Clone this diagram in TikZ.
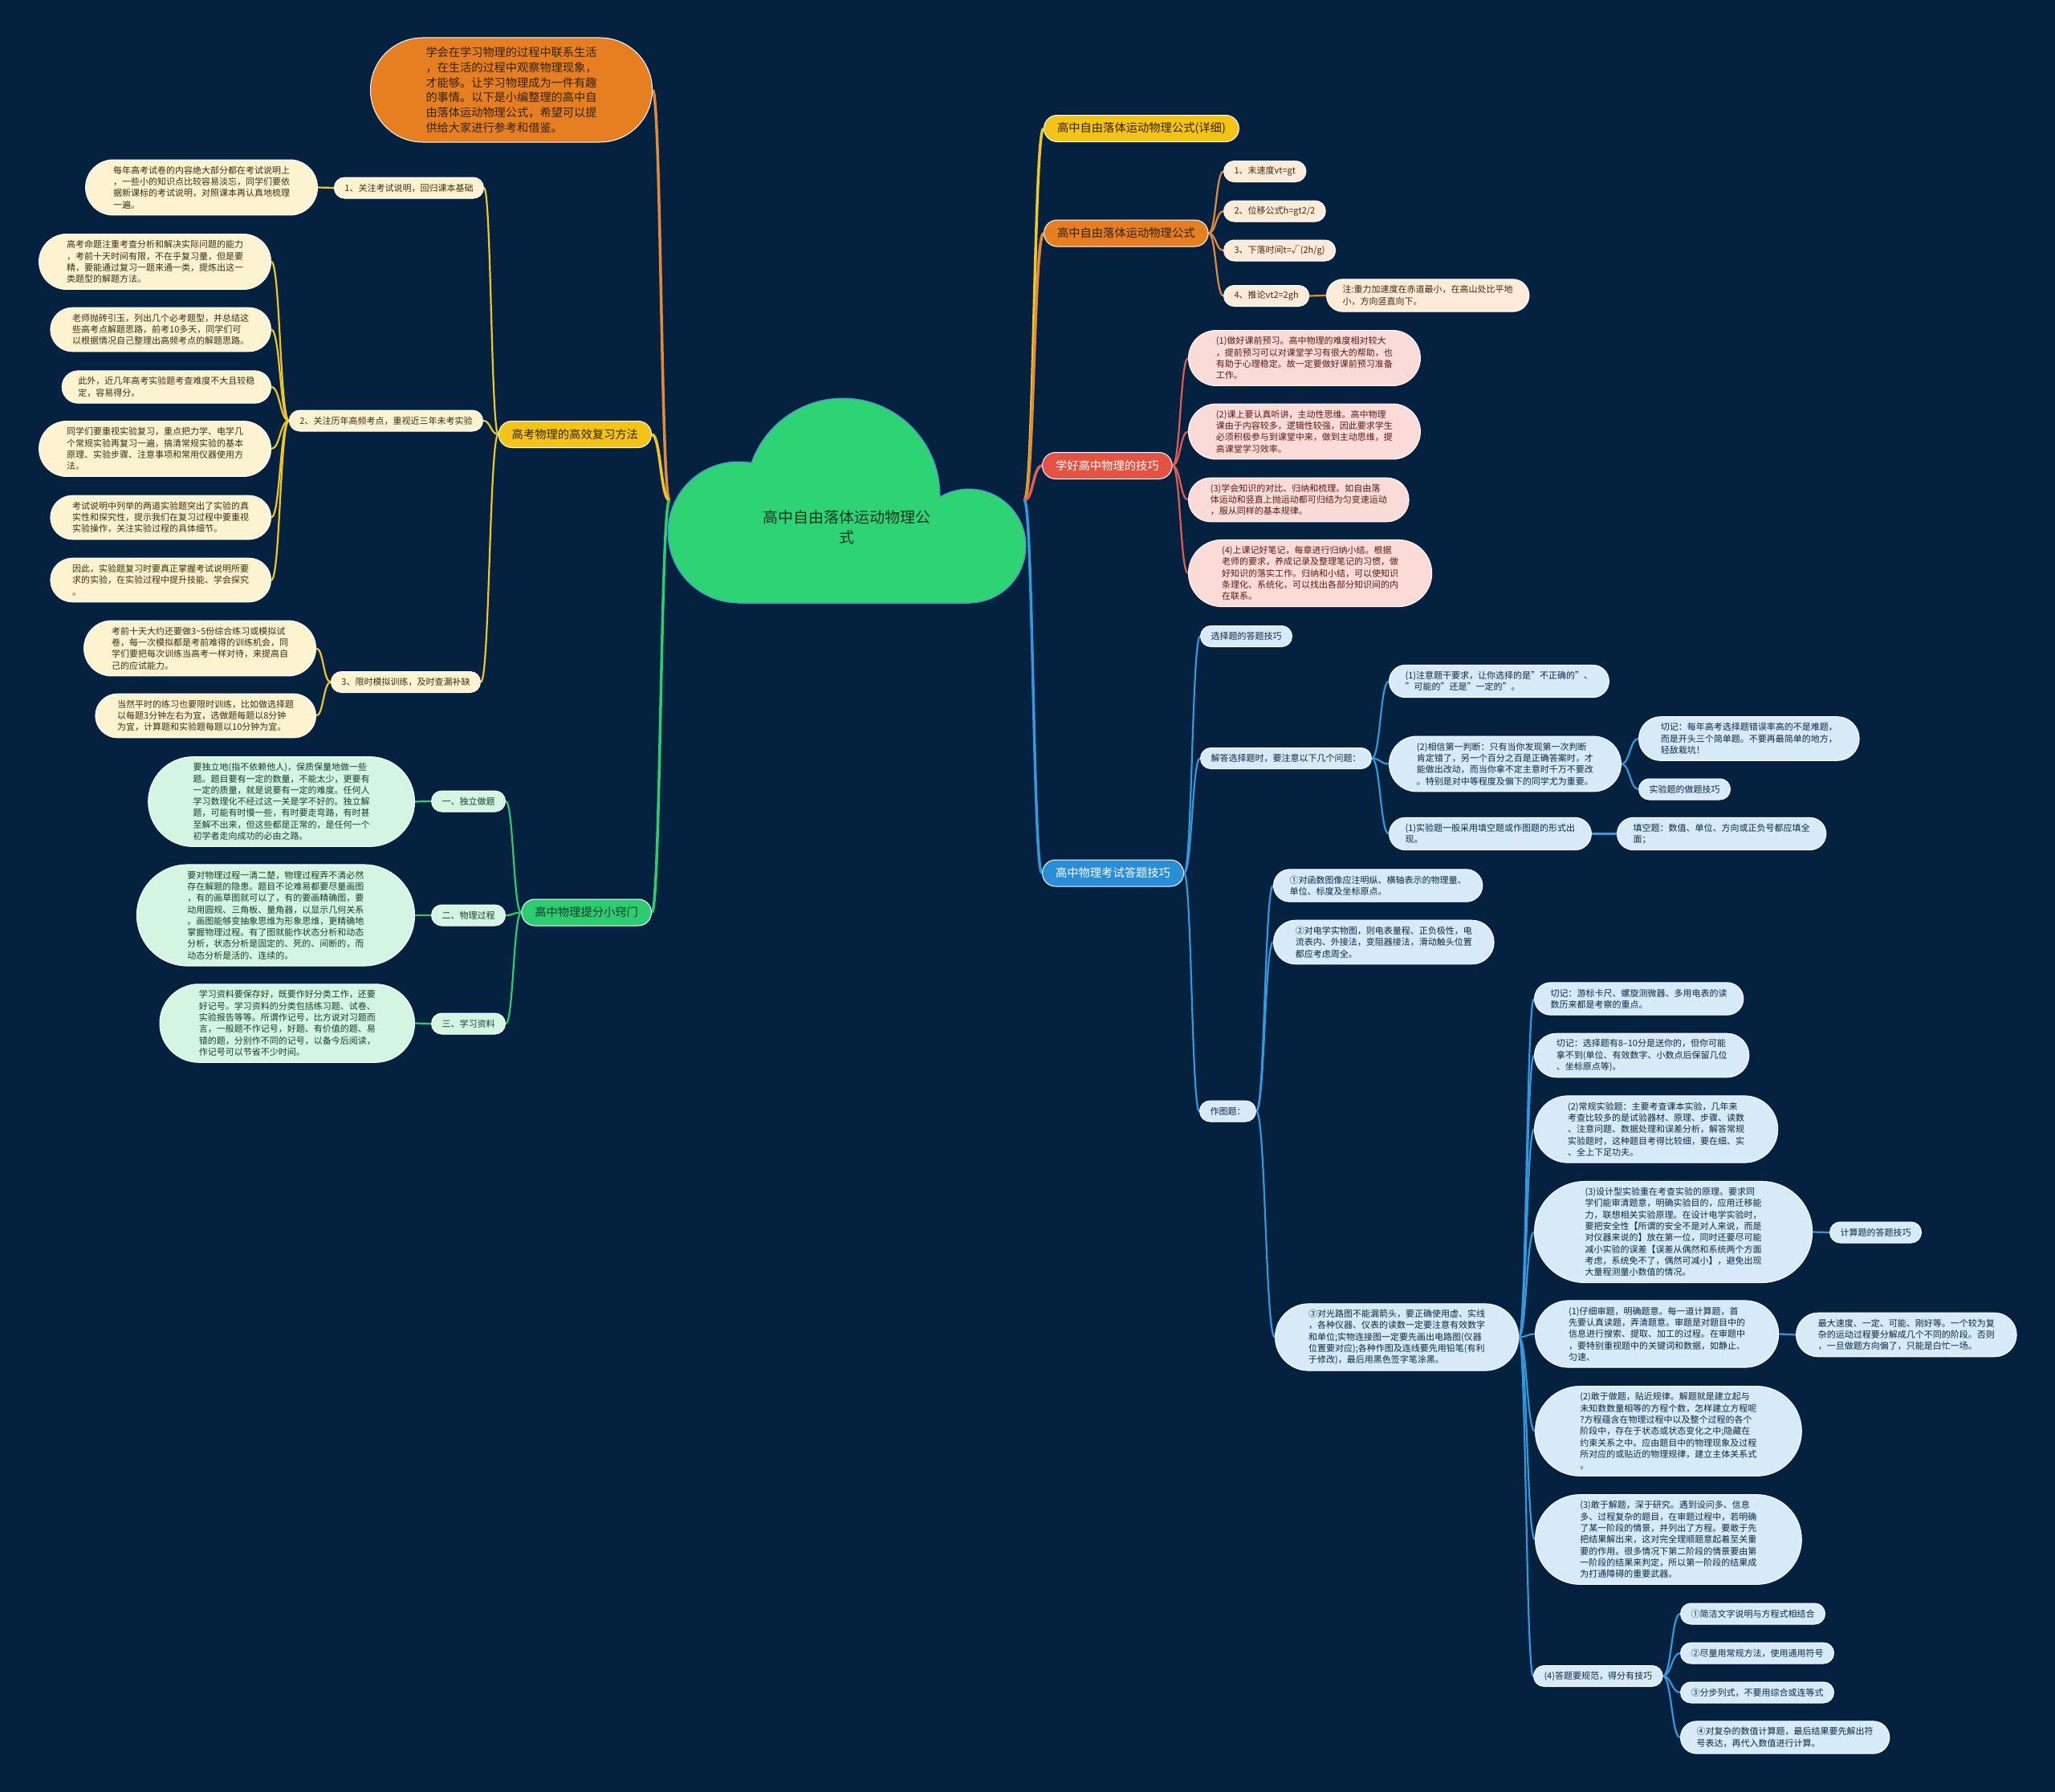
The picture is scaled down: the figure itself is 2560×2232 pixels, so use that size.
\documentclass[tikz,border=0pt]{standalone}
\usepackage{fontspec}
\setmainfont{Noto Sans CJK SC}
\usetikzlibrary{calc}
\definecolor{cBg}{RGB}{4,33,63}
\definecolor{cCloud}{RGB}{46,212,116}
\definecolor{cCloudLine}{RGB}{70,160,200}
\definecolor{cCloudTx}{RGB}{22,52,36}
\definecolor{cYel}{RGB}{243,196,22}
\definecolor{cOra}{RGB}{230,126,34}
\definecolor{cRed}{RGB}{228,82,68}
\definecolor{cBlu}{RGB}{41,141,216}
\definecolor{cGrn}{RGB}{46,204,113}
\definecolor{lYel}{RGB}{240,198,45}
\definecolor{lOra}{RGB}{225,140,60}
\definecolor{lRed}{RGB}{222,96,82}
\definecolor{lBlu}{RGB}{52,152,219}
\definecolor{lGrn}{RGB}{46,204,113}
\definecolor{cCream}{RGB}{253,243,208}
\definecolor{cPeach}{RGB}{253,235,218}
\definecolor{cPink}{RGB}{250,219,216}
\definecolor{cLblue}{RGB}{214,234,248}
\definecolor{cLgreen}{RGB}{213,245,227}
\definecolor{tCream}{RGB}{60,45,20}
\definecolor{tPeach}{RGB}{70,40,15}
\definecolor{tPink}{RGB}{90,26,18}
\definecolor{tLblue}{RGB}{12,40,68}
\definecolor{tLgreen}{RGB}{20,62,38}
\definecolor{tDark}{RGB}{50,35,5}
\pgfdeclarelayer{bg}
\pgfdeclarelayer{edges}
\pgfsetlayers{bg,edges,main}
\tikzset{
  nlines/.code={\pgfmathsetmacro\nodeHH{(#1-1)*14.3+26}\pgfmathsetmacro\nodeRR{\nodeHH/2}%
     \tikzset{minimum height=\nodeHH pt, rounded corners=\nodeRR pt, inner xsep=\nodeRR pt}},
  nd/.style={rectangle, inner ysep=2pt, align=left, draw=white, line width=1pt, font=\fontsize{11}{14.3}\selectfont, nlines=#1},
  nd/.default=1,
  bg1/.style={rectangle, minimum height=33pt, rounded corners=16.5pt, inner xsep=16.5pt, inner ysep=2pt, draw=white, line width=1pt, font=\fontsize{14.3}{17}\selectfont},
  nCream/.style={nd=#1, fill=cCream, text=tCream}, nCream/.default=1,
  nPeach/.style={nd=#1, fill=cPeach, text=tPeach}, nPeach/.default=1,
  nPink/.style={nd=#1, fill=cPink, text=tPink}, nPink/.default=1,
  nLblue/.style={nd=#1, fill=cLblue, text=tLblue}, nLblue/.default=1,
  nLgreen/.style={nd=#1, fill=cLgreen, text=tLgreen}, nLgreen/.default=1,
  eY/.style={draw=lYel, line width=2.2pt},
  eO/.style={draw=lOra, line width=2.2pt},
  eR/.style={draw=lRed, line width=2.2pt},
  eB/.style={draw=lBlu, line width=2.2pt},
  eG/.style={draw=lGrn, line width=2.2pt},
  eYr/.style={draw=lYel, line width=3.5pt},
  eOr/.style={draw=lOra, line width=3.5pt},
  eRr/.style={draw=lRed, line width=3.5pt},
  eBr/.style={draw=lBlu, line width=3.5pt},
  eGr/.style={draw=lGrn, line width=3.5pt},
}
\newcommand\medge[3]{\begin{pgfonlayer}{edges}\draw[#1] let \p1=(#2), \p2=(#3) in (\p1) .. controls ({0.5*\x1+0.5*\x2},\y1) and ({0.5*\x1+0.5*\x2},\y2) .. (\p2);\end{pgfonlayer}}
\begin{document}
\begin{tikzpicture}[x=1pt,y=-1pt]
\begin{pgfonlayer}{bg}
\fill[cBg] (0,0) rectangle (2560,2232);
\end{pgfonlayer}
\useasboundingbox (0,0) rectangle (2560,2232);

% cloud
\draw[line width=3pt, cCloudLine] (920,663) circle[radius=87pt];
\draw[line width=3pt, cCloudLine] (1050,617) circle[radius=120pt];
\draw[line width=3pt, cCloudLine] (1207,680) circle[radius=70pt];
\draw[line width=3pt, cCloudLine] (920,640) rectangle (1207,750);
\fill[cCloud] (920,663) circle[radius=87pt];
\fill[cCloud] (1050,617) circle[radius=120pt];
\fill[cCloud] (1207,680) circle[radius=70pt];
\fill[cCloud] (920,640) rectangle (1207,750);
\node[font=\fontsize{19}{25}\selectfont, text=cCloudTx, align=center] (root) at (1055,657) {高中自由落体运动物理公\\式};
\coordinate (rootL) at (834,623);
\coordinate (rootR) at (1276,623);

% ---------- left side ----------
\node[rectangle, minimum height=130pt, rounded corners=65pt, inner xsep=69pt, inner ysep=2pt, align=left, draw=white, line width=1pt, fill=cOra, text=tDark, font=\fontsize{14.2}{18.7}\selectfont, anchor=east] (desc) at (813,112) {学会在学习物理的过程中联系生活\\，在生活的过程中观察物理现象，\\才能够。让学习物理成为一件有趣\\的事情。以下是小编整理的高中自\\由落体运动物理公式，希望可以提\\供给大家进行参考和借鉴。};

\node[bg1, fill=cYel, text=tDark, anchor=east] (fuxi) at (812,541) {高考物理的高效复习方法};
\node[nCream, anchor=east] (l1) at (603,234) {1、关注考试说明，回归课本基础};
\node[nCream=4, anchor=east] (l1a) at (396,233.5) {每年高考试卷的内容绝大部分都在考试说明上\\，一些小的知识点比较容易淡忘，同学们要依\\据新课标的考试说明，对照课本再认真地梳理\\一遍。};
\node[nCream, anchor=east] (l2) at (602,524) {2、关注历年高频考点，重视近三年未考实验};
\node[nCream=4, anchor=east] (l2a) at (338,326) {高考命题注重考查分析和解决实际问题的能力\\，考前十天时间有限，不在乎复习量，但是要\\精，要能通过复习一题来通一类，提炼出这一\\类题型的解题方法。};
\node[nCream=3, anchor=east] (l2b) at (338,410.5) {老师抛砖引玉，列出几个必考题型，并总结这\\些高考点解题思路，前考10多天，同学们可\\以根据情况自己整理出高频考点的解题思路。};
\node[nCream=2, anchor=east] (l2c) at (338,482) {此外，近几年高考实验题考查难度不大且较稳\\定，容易得分。};
\node[nCream=4, anchor=east] (l2d) at (338,559) {同学们要重视实验复习，重点把力学、电学几\\个常规实验再复习一遍，搞清常规实验的基本\\原理、实验步骤、注意事项和常用仪器使用方\\法。};
\node[nCream=3, anchor=east] (l2e) at (338,644.5) {考试说明中列举的两道实验题突出了实验的真\\实性和探究性，提示我们在复习过程中要重视\\实验操作，关注实验过程的具体细节。};
\node[nCream=3, anchor=east] (l2f) at (338,722.5) {因此，实验题复习时要真正掌握考试说明所要\\求的实验，在实验过程中提升技能、学会探究\\。};
\node[nCream, anchor=east] (l3) at (599,849.5) {3、限时模拟训练，及时查漏补缺};
\node[nCream=4, anchor=east] (l3a) at (394,807.5) {考前十天大约还要做3\textasciitilde 5份综合练习或模拟试\\卷，每一次模拟都是考前难得的训练机会，同\\学们要把每次训练当高考一样对待，来提高自\\己的应试能力。};
\node[nCream=3, anchor=east] (l3b) at (394,891.5) {当然平时的练习也要限时训练，比如做选择题\\以每题3分钟左右为宜，选做题每题以8分钟\\为宜，计算题和实验题每题以10分钟为宜。};

\node[bg1, fill=cGrn, text=tLgreen, anchor=east] (tf) at (812,1136.5) {高中物理提分小窍门};
\node[nLgreen, anchor=east] (g1) at (630,998) {一、独立做题};
\node[nLgreen=7, anchor=east] (g1a) at (517,998.5) {要独立地(指不依赖他人)，保质保量地做一些\\题。题目要有一定的数量，不能太少，更要有\\一定的质量，就是说要有一定的难度。任何人\\学习数理化不经过这一关是学不好的。独立解\\题，可能有时慢一些，有时要走弯路，有时甚\\至解不出来，但这些都是正常的，是任何一个\\初学者走向成功的必由之路。};
\node[nLgreen, anchor=east] (g2) at (630,1140) {二、物理过程};
\node[nLgreen=8, anchor=east] (g2a) at (517,1140) {要对物理过程一清二楚，物理过程弄不清必然\\存在解题的隐患。题目不论难易都要尽量画图\\，有的画草图就可以了，有的要画精确图，要\\动用圆规、三角板、量角器，以显示几何关系\\。画图能够变抽象思维为形象思维，更精确地\\掌握物理过程。有了图就能作状态分析和动态\\分析，状态分析是固定的、死的、间断的，而\\动态分析是活的、连续的。};
\node[nLgreen, anchor=east] (g3) at (630,1275) {三、学习资料};
\node[nLgreen=6, anchor=east] (g3a) at (517,1274.5) {学习资料要保存好，既要作好分类工作，还要\\好记号。学习资料的分类包括练习题、试卷、\\实验报告等等。所谓作记号，比方说对习题而\\言，一般题不作记号，好题、有价值的题、易\\错的题，分别作不同的记号，以备今后阅读，\\作记号可以节省不少时间。};

% ---------- right side ----------
\node[bg1, fill=cYel, text=tDark, anchor=west] (xx) at (1300,160) {高中自由落体运动物理公式(详细)};
\node[bg1, fill=cOra, text=tDark, anchor=west] (gs) at (1300,290.5) {高中自由落体运动物理公式};
\node[nPeach, anchor=west] (gs1) at (1524,213.5) {1、末速度vt=gt};
\node[nPeach, anchor=west] (gs2) at (1524,263) {2、位移公式h=gt2/2};
\node[nPeach, anchor=west] (gs3) at (1524,312) {3、下落时间t=√(2h/g)};
\node[nPeach, anchor=west] (gs4) at (1524,368.5) {4、推论vt2=2gh};
\node[nPeach=2, anchor=west] (gs4a) at (1652,368) {注:重力加速度在赤道最小，在高山处比平地\\小，方向竖直向下。};

\node[bg1, fill=cRed, text=white, anchor=west] (jq) at (1298,580) {学好高中物理的技巧};
\node[nPink=4, anchor=west] (jq1) at (1480,446) {(1)做好课前预习。高中物理的难度相对较大\\，提前预习可以对课堂学习有很大的帮助，也\\有助于心理稳定。故一定要做好课前预习准备\\工作。};
\node[nPink=4, anchor=west] (jq2) at (1480,537.5) {(2)课上要认真听讲，主动性思维。高中物理\\课由于内容较多，逻辑性较强，因此要求学生\\必须积极参与到课堂中来，做到主动思维，提\\高课堂学习效率。};
\node[nPink=3, anchor=west] (jq3) at (1480,622.5) {(3)学会知识的对比、归纳和梳理。如自由落\\体运动和竖直上抛运动都可归结为匀变速运动\\，服从同样的基本规律。};
\node[nPink=5, anchor=west] (jq4) at (1480,714) {(4)上课记好笔记，每章进行归纳小结。根据\\老师的要求，养成记录及整理笔记的习惯，做\\好知识的落实工作。归纳和小结，可以使知识\\条理化、系统化，可以找出各部分知识间的内\\在联系。};

\node[bg1, fill=cBlu, text=white, anchor=west] (dt) at (1298,1087.5) {高中物理考试答题技巧};
\node[nLblue, anchor=west] (xz) at (1495,792.5) {选择题的答题技巧};
\node[nLblue, anchor=west] (jd) at (1495,944.5) {解答选择题时，要注意以下几个问题：};
\node[nLblue=2, anchor=west] (jd1) at (1730,848.5) {(1)注意题干要求，让你选择的是"不正确的"、\\"可能的"还是"一定的"。};
\node[nLblue=4, anchor=west] (jd2) at (1730,951.5) {(2)相信第一判断：只有当你发现第一次判断\\肯定错了，另一个百分之百是正确答案时，才\\能做出改动，而当你拿不定主意时千万不要改\\。特别是对中等程度及偏下的同学尤为重要。};
\node[nLblue=3, anchor=west] (jd2a) at (2041,920) {切记：每年高考选择题错误率高的不是难题，\\而是开头三个简单题。不要再最简单的地方，\\轻敌栽坑！};
\node[nLblue, anchor=west] (jd2b) at (2041,983) {实验题的做题技巧};
\node[nLblue=2, anchor=west] (jd3) at (1730,1038.5) {(1)实验题一般采用填空题或作图题的形式出\\现。};
\node[nLblue=2, anchor=west] (jd3a) at (2014,1038.5) {填空题：数值、单位、方向或正负号都应填全\\面；};
\node[nLblue, anchor=west] (zt) at (1494,1384) {作图题：};
\node[nLblue=2, anchor=west] (zt1) at (1586,1103) {①对函数图像应注明纵、横轴表示的物理量、\\单位、标度及坐标原点。};
\node[nLblue=3, anchor=west] (zt2) at (1586,1173.5) {②对电学实物图，则电表量程、正负极性，电\\流表内、外接法，变阻器接法，滑动触头位置\\都应考虑周全。};
\node[nLblue=5, anchor=west] (zt3) at (1588,1665.5) {③对光路图不能漏箭头，要正确使用虚、实线\\，各种仪器、仪表的读数一定要注意有效数字\\和单位;实物连接图一定要先画出电路图(仪器\\位置要对应);各种作图及连线要先用铅笔(有利\\于修改)，最后用黑色签字笔涂黑。};
\node[nLblue=2, anchor=west] (k1) at (1911,1244) {切记：游标卡尺、螺旋测微器、多用电表的读\\数历来都是考察的重点。};
\node[nLblue=3, anchor=west] (k2) at (1911,1314.5) {切记：选择题有8–10分是送你的，但你可能\\拿不到(单位、有效数字、小数点后保留几位\\、坐标原点等)。};
\node[nLblue=5, anchor=west] (k3) at (1911,1406.5) {(2)常规实验题：主要考查课本实验，几年来\\考查比较多的是试验器材、原理、步骤、读数\\、注意问题、数据处理和误差分析，解答常规\\实验题时，这种题目考得比较细，要在细、实\\、全上下足功夫。};
\node[nLblue=8, anchor=west] (k4) at (1911,1534.5) {(3)设计型实验重在考查实验的原理。要求同\\学们能审清题意，明确实验目的，应用迁移能\\力，联想相关实验原理。在设计电学实验时，\\要把安全性【所谓的安全不是对人来说，而是\\对仪器来说的】放在第一位，同时还要尽可能\\减小实验的误差【误差从偶然和系统两个方面\\考虑，系统免不了，偶然可减小】，避免出现\\大量程测量小数值的情况。};
\node[nLblue, anchor=west] (k4a) at (2279,1535) {计算题的答题技巧};
\node[nLblue=5, anchor=west] (k5) at (1912,1661.5) {(1)仔细审题，明确题意。每一道计算题，首\\先要认真读题，弄清题意。审题是对题目中的\\信息进行搜索、提取、加工的过程。在审题中\\，要特别重视题中的关键词和数据，如静止、\\匀速、};
\node[nLblue=3, anchor=west] (k5a) at (2237,1662.5) {最大速度、一定、可能、刚好等。一个较为复\\杂的运动过程要分解成几个不同的阶段。否则\\，一旦做题方向偏了，只能是白忙一场。};
\node[nLblue=7, anchor=west] (k6) at (1912,1782.5) {(2)敢于做题，贴近规律。解题就是建立起与\\未知数数量相等的方程个数，怎样建立方程呢\\?方程蕴含在物理过程中以及整个过程的各个\\阶段中，存在于状态或状态变化之中;隐藏在\\约束关系之中。应由题目中的物理现象及过程\\所对应的或贴近的物理规律，建立主体关系式\\。};
\node[nLblue=7, anchor=west] (k7) at (1912,1917.5) {(3)敢于解题，深于研究。遇到设问多、信息\\多、过程复杂的题目，在审题过程中，若明确\\了某一阶段的情景，并列出了方程。要敢于先\\把结果解出来，这对完全理顺题意起着至关重\\要的作用。很多情况下第二阶段的情景要由第\\一阶段的结果来判定，所以第一阶段的结果成\\为打通障碍的重要武器。};
\node[nLblue, anchor=west] (k8) at (1910,2087.5) {(4)答题要规范，得分有技巧};
\node[nLblue, anchor=west] (k8a) at (2093,2010) {①简洁文字说明与方程式相结合};
\node[nLblue, anchor=west] (k8b) at (2093,2059) {②尽量用常规方法，使用通用符号};
\node[nLblue, anchor=west] (k8c) at (2093,2108) {③分步列式，不要用综合或连等式};
\node[nLblue=2, anchor=west] (k8d) at (2093,2164) {④对复杂的数值计算题，最后结果要先解出符\\号表达，再代入数值进行计算。};

% ---------- edges ----------
\medge{eOr}{rootL}{desc.east}
\medge{eYr}{rootL}{fuxi.east}
\medge{eGr}{rootL}{tf.east}
\medge{eYr}{rootR}{xx.west}
\medge{eOr}{rootR}{gs.west}
\medge{eRr}{rootR}{jq.west}
\medge{eBr}{rootR}{dt.west}

\medge{eY}{fuxi.west}{l1.east}
\medge{eY}{fuxi.west}{l2.east}
\medge{eY}{fuxi.west}{l3.east}
\medge{eY}{l1.west}{l1a.east}
\medge{eY}{l2.west}{l2a.east}
\medge{eY}{l2.west}{l2b.east}
\medge{eY}{l2.west}{l2c.east}
\medge{eY}{l2.west}{l2d.east}
\medge{eY}{l2.west}{l2e.east}
\medge{eY}{l2.west}{l2f.east}
\medge{eY}{l3.west}{l3a.east}
\medge{eY}{l3.west}{l3b.east}

\medge{eG}{tf.west}{g1.east}
\medge{eG}{tf.west}{g2.east}
\medge{eG}{tf.west}{g3.east}
\medge{eG}{g1.west}{g1a.east}
\medge{eG}{g2.west}{g2a.east}
\medge{eG}{g3.west}{g3a.east}

\medge{eO}{gs.east}{gs1.west}
\medge{eO}{gs.east}{gs2.west}
\medge{eO}{gs.east}{gs3.west}
\medge{eO}{gs.east}{gs4.west}
\medge{eO}{gs4.east}{gs4a.west}

\medge{eR}{jq.east}{jq1.west}
\medge{eR}{jq.east}{jq2.west}
\medge{eR}{jq.east}{jq3.west}
\medge{eR}{jq.east}{jq4.west}

\medge{eB}{dt.east}{xz.west}
\medge{eB}{dt.east}{jd.west}
\medge{eB}{dt.east}{zt.west}
\medge{eB}{jd.east}{jd1.west}
\medge{eB}{jd.east}{jd2.west}
\medge{eB}{jd.east}{jd3.west}
\medge{eB}{jd2.east}{jd2a.west}
\medge{eB}{jd2.east}{jd2b.west}
\medge{eB}{jd3.east}{jd3a.west}
\medge{eB}{zt.east}{zt1.west}
\medge{eB}{zt.east}{zt2.west}
\medge{eB}{zt.east}{zt3.west}
\medge{eB}{zt3.east}{k1.west}
\medge{eB}{zt3.east}{k2.west}
\medge{eB}{zt3.east}{k3.west}
\medge{eB}{zt3.east}{k4.west}
\medge{eB}{zt3.east}{k5.west}
\medge{eB}{zt3.east}{k6.west}
\medge{eB}{zt3.east}{k7.west}
\medge{eB}{zt3.east}{k8.west}
\medge{eB}{k4.east}{k4a.west}
\medge{eB}{k5.east}{k5a.west}
\medge{eB}{k8.east}{k8a.west}
\medge{eB}{k8.east}{k8b.west}
\medge{eB}{k8.east}{k8c.west}
\medge{eB}{k8.east}{k8d.west}
\end{tikzpicture}
\end{document}
